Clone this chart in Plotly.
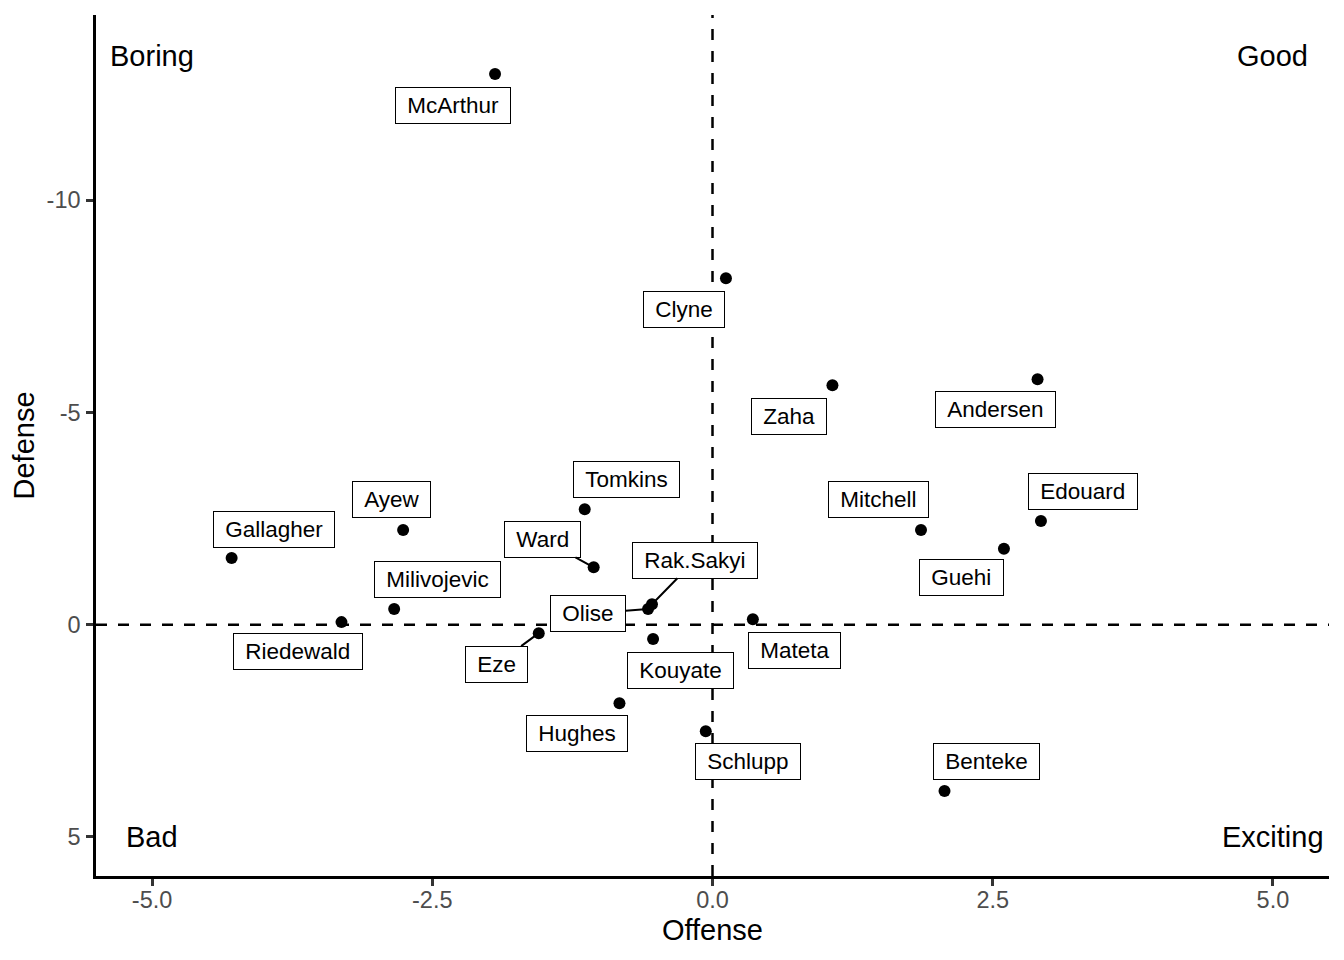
import plotly.graph_objects as go

# ---- data ----
players = ["McArthur", "Clyne", "Zaha", "Andersen", "Edouard", "Mitchell", "Guehi",
           "Tomkins", "Ayew", "Gallagher", "Ward", "Rak.Sakyi", "Olise", "Milivojevic",
           "Riedewald", "Mateta", "Eze", "Kouyate", "Hughes", "Schlupp", "Benteke"]
offense = [-1.94, 0.12, 1.07, 2.90, 2.93, 1.86, 2.60,
           -1.14, -2.76, -4.29, -1.06, -0.54, -0.575, -2.84,
           -3.31, 0.36, -1.55, -0.53, -0.83, -0.06, 2.07]
defense = [-12.97, -8.16, -5.64, -5.78, -2.44, -2.23, -1.79,
           -2.72, -2.23, -1.57, -1.35, -0.48, -0.37, -0.37,
           -0.06, -0.13, 0.20, 0.34, 1.85, 2.51, 3.92]

quadrant_text = ["Boring", "Good", "Bad", "Exciting"]
quadrant_x = [-5, 5, -5, 5]
quadrant_y = [-13.4, -13.4, 5, 5]

x_ticks = [-5, -2.5, 0, 2.5, 5]
x_tick_labels = ["-5.0", "-2.5", "0.0", "2.5", "5.0"]
y_ticks = [-10, -5, 0, 5]
y_tick_labels = ["-10", "-5", "0", "5"]

# label placement (pixel offsets of label box centre from the point) – styling only
label_offsets = {
    "McArthur": (-42, 31), "Clyne": (-42, 31), "Zaha": (-43, 31), "Andersen": (-42, 30),
    "Edouard": (42, -30), "Mitchell": (-42, -30), "Guehi": (-42, 29),
    "Tomkins": (42, -30), "Ayew": (-12, -30), "Gallagher": (42, -29),
    "Ward": (-51, -28), "Rak.Sakyi": (43, -44), "Olise": (-60, 5),
    "Milivojevic": (43, -29), "Riedewald": (-43, 29), "Mateta": (42, 31),
    "Eze": (-42, 31), "Kouyate": (27, 31), "Hughes": (-42, 30),
    "Schlupp": (42, 30), "Benteke": (42, -30),
}
with_segment = {"Ward", "Rak.Sakyi", "Olise", "Eze"}

FONT = "Liberation Sans, Arial, Helvetica, sans-serif"

fig = go.Figure()

fig.add_trace(go.Scatter(
    x=offense, y=defense, mode="markers",
    marker=dict(color="black", size=12),
    hoverinfo="text", text=players, showlegend=False,
))

# reference lines
fig.add_vline(x=0, line=dict(color="black", width=2.5, dash="11px,11px"))
fig.add_hline(y=0, line=dict(color="black", width=2.5, dash="11px,11px"))

annotations = []
for name, xv, yv in zip(players, offense, defense):
    ax, ay = label_offsets[name]
    annotations.append(dict(
        x=xv, y=yv, xref="x", yref="y",
        text="\u00a0" + name + "\u00a0",
        showarrow=True, arrowhead=0,
        arrowwidth=2,
        arrowcolor="black" if name in with_segment else "rgba(0,0,0,0)",
        ax=ax, ay=ay, axref="pixel", ayref="pixel",
        xanchor="center", yanchor="middle",
        font=dict(family=FONT, size=22.5, color="black"),
        bgcolor="white", bordercolor="black", borderwidth=1, borderpad=5,
    ))

for t, xv, yv in zip(quadrant_text, quadrant_x, quadrant_y):
    annotations.append(dict(
        x=xv, y=yv, xref="x", yref="y", text=t, showarrow=False,
        xanchor="center", yanchor="middle",
        font=dict(family=FONT, size=29, color="black"),
    ))

# the page body adds an 8px margin, so the figure is sized to fit after that offset
fig.update_layout(
    width=1336, height=952,
    margin=dict(l=88, r=15, t=7, b=84),
    paper_bgcolor="white", plot_bgcolor="white",
    font=dict(family=FONT, color="black"),
    annotations=annotations,
    xaxis=dict(
        range=[-5.5, 5.5], tickvals=x_ticks, ticktext=x_tick_labels,
        showgrid=False, zeroline=False,
        showline=True, linecolor="black", linewidth=2.5,
        ticks="outside", ticklen=7, tickwidth=2.5, tickcolor="#333333",
        ticklabelstandoff=-6,
        tickfont=dict(family=FONT, size=23.5, color="#4D4D4D"),
        title=dict(text="Offense", font=dict(family=FONT, size=29, color="black"), standoff=8),
    ),
    yaxis=dict(
        range=[5.92, -14.36], tickvals=y_ticks, ticktext=y_tick_labels,
        showgrid=False, zeroline=False,
        showline=True, linecolor="black", linewidth=2.5,
        ticks="outside", ticklen=7, tickwidth=2.5, tickcolor="#333333",
        ticklabelstandoff=1,
        tickfont=dict(family=FONT, size=23.5, color="#4D4D4D"),
        title=dict(text="Defense", font=dict(family=FONT, size=29, color="black"), standoff=8),
    ),
)

fig.write_html("out.html")
